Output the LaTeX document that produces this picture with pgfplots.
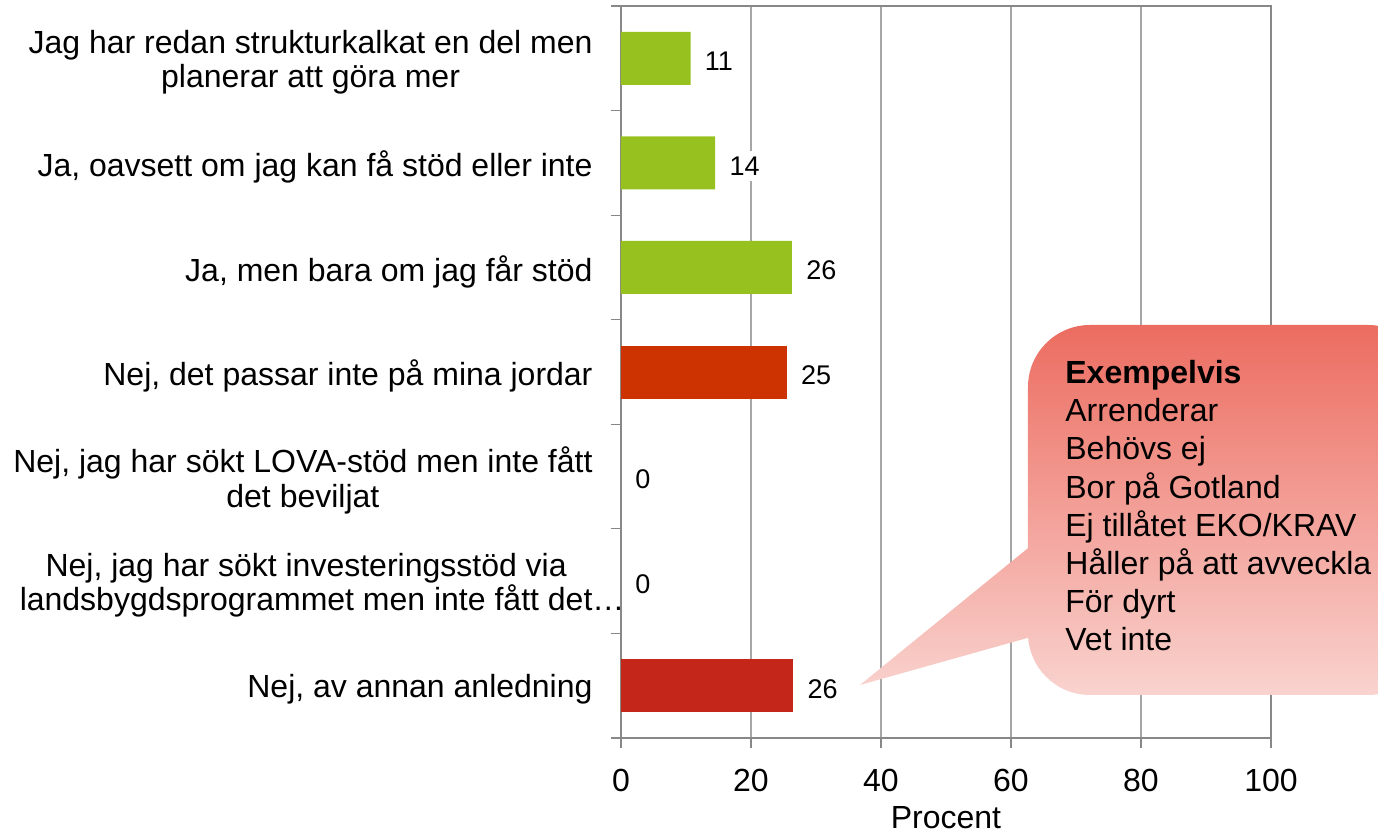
\documentclass[border=0pt]{standalone}
\usepackage{pgfplots}
\pgfplotsset{compat=1.18}
\usepackage{fontspec}
\setmainfont{Liberation Sans}
\definecolor{bargreen}{HTML}{96C11F}
\definecolor{barred}{HTML}{CC3300}
\definecolor{barred2}{HTML}{C4261A}
\definecolor{gridgray}{HTML}{A6A6A6}
\definecolor{axgray}{HTML}{888888}
\definecolor{calltop}{HTML}{EC6C60}
\definecolor{callbot}{HTML}{F9D3CF}
\begin{document}
\begin{tikzpicture}
\begin{axis}[
  at={(0,0)}, anchor=south west,
  scale only axis, width=325pt, height=366pt,
  xmin=0, xmax=100, ymin=0.5, ymax=7.5, y dir=reverse,
  xtick={0,20,40,60,80,100},
  ytick={1,2,3,4,5,6,7},
  yticklabels={{Jag har redan strukturkalkat en del men\\planerar att göra mer},
    {Ja, oavsett om jag kan få stöd eller inte},
    {Ja, men bara om jag får stöd},
    {Nej, det passar inte på mina jordar},
    {Nej, jag har sökt LOVA-stöd men inte fått\\det beviljat},
    {Nej, jag har sökt investeringsstöd via\\landsbygdsprogrammet men inte fått det\rlap{…}},
    {Nej, av annan anledning}},
  minor ytick={0.5,1.5,2.5,3.5,4.5,5.5,6.5,7.5},
  major tick length=5pt, minor tick length=5pt,
  tick align=outside,
  y tick style={draw=none},
  minor y tick style={draw=axgray, line width=0.6pt},
  x tick style={draw=axgray, line width=0.6pt},
  xtick pos=bottom, ytick pos=left,
  xmajorgrids, grid style={draw=gridgray, line width=0.65pt},
  axis line style={draw=axgray, line width=0.6pt},
  /pgf/number format/assume math mode=true,
  tick label style={font=\fontsize{16}{19}\selectfont},
  yticklabel style={align=center, font=\fontsize{16}{17.2}\selectfont, xshift=-5.7pt, yshift=-2pt},
  xticklabel style={yshift=-7pt},
  xlabel={Procent},
  xlabel style={font=\fontsize{16}{19}\selectfont, yshift=-0.5pt},
  point meta=explicit symbolic,
  nodes near coords,
  every node near coord/.append style={font=\fontsize{13.5}{16}\selectfont, fill=white, inner sep=3pt, xshift=4pt, yshift=-1.5pt, anchor=west},
  clip=false,
]
\addplot[xbar, bar shift=0pt, bar width=26.5pt, fill=bargreen, draw=none]
  coordinates {(10.7,1) [11] (14.5,2) [14] (26.3,3) [26]};
\addplot[xbar, bar shift=0pt, bar width=26.5pt, fill=barred, draw=none]
  coordinates {(25.5,4) [25]};
\addplot[xbar, bar shift=0pt, bar width=26.5pt, fill=none, draw=none]
  coordinates {(0,5) [0] (0,6) [0]};
\addplot[xbar, bar shift=0pt, bar width=26.5pt, fill=barred2, draw=none]
  coordinates {(26.5,7) [26]};
\end{axis}
% callout
\shade[top color=calltop, bottom color=callbot, rounded corners=31pt]
  (203.5pt,21.5pt) rectangle (404.5pt,206.5pt)
  [sharp corners] (208.5pt,99pt) -- (208.5pt,51.5pt) -- (119.5pt,26.5pt) -- cycle;
\node[anchor=north west, align=left, font=\fontsize{16}{19.1}\selectfont, inner sep=0pt]
  at (222pt,189pt) {\textbf{Exempelvis}\\Arrenderar\\Behövs ej\\Bor på Gotland\\Ej tillåtet EKO/KRAV\\Håller på att avveckla\\För dyrt\\Vet inte};
\pgfresetboundingbox
\path[use as bounding box] (-310.5pt,-48pt) rectangle (378.5pt,369pt);
\end{tikzpicture}
\end{document}
